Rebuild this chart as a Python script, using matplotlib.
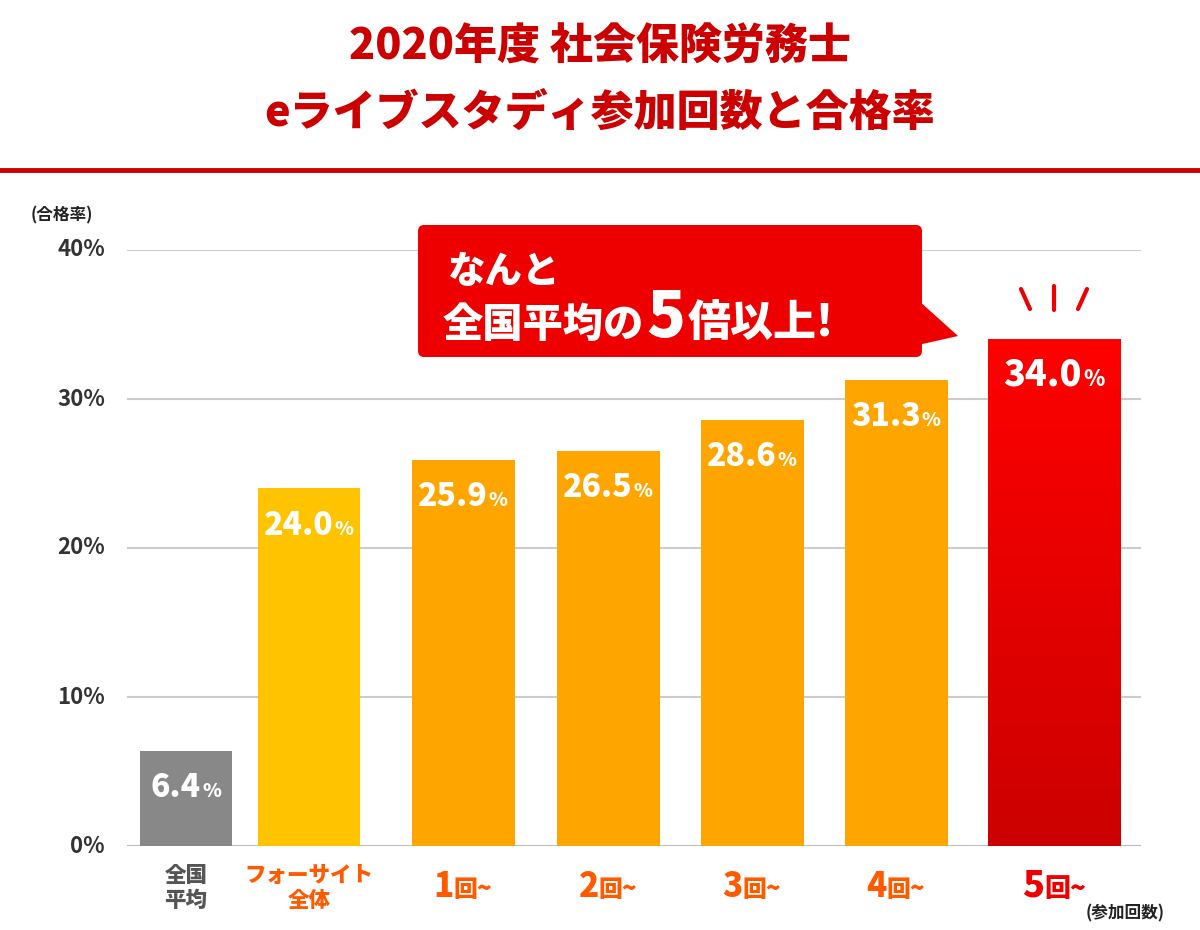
import matplotlib
matplotlib.use("Agg")
import matplotlib.pyplot as plt
import numpy as np
from matplotlib.patches import Polygon, FancyBboxPatch
from matplotlib.colors import LinearSegmentedColormap

plt.rcParams['font.family'] = 'Noto Sans CJK JP'

categories = ["全国\n平均", "フォーサイト\n全体", "1回~", "2回~", "3回~", "4回~", "5回~"]
values = [6.4, 24.0, 25.9, 26.5, 28.6, 31.3, 34.0]
yticks = [0, 10, 20, 30, 40]
ytick_labels = ["0%", "10%", "20%", "30%", "40%"]

centers = [186, 309, 463, 608, 752, 896, 1054]
widths = [92, 102, 103, 103, 103, 103, 133]
bar_colors = ["#888888", "#FFC300", "#FFA500", "#FFA500", "#FFA500", "#FFA500", None]
cat_colors = ["#555555", "#FF5A00", "#FF5A00", "#FF5A00", "#FF5A00", "#FF5A00", "#EE0000"]

fig = plt.figure(figsize=(12, 9.3), dpi=100)
ax = fig.add_axes([0, 84/930, 1, 596/930])
ax.axis('off')
ax.set_xlim(0, 1200)
ax.set_ylim(0, 40)
renderer = fig.canvas.get_renderer()

def chain(x, y, parts, color, center=True, zorder=5):
    inv = ax.transData.inverted()
    ts, ws = [], []
    for s, fs, g in parts:
        t = ax.text(0, y, s, ha='left', va='baseline', fontsize=fs, color=color, fontweight='heavy', zorder=zorder, clip_on=False)
        b = t.get_window_extent(renderer)
        ws.append((inv.transform((b.width, 0)) - inv.transform((0, 0)))[0] + g)
        ts.append(t)
    x0 = x - sum(ws)/2 if center else x
    for t, w in zip(ts, ws):
        t.set_x(x0); x0 += w

for t, lab in zip(yticks, ytick_labels):
    ax.plot([128, 1140], [t, t], color="#cccccc" if t else "#bbbbbb", lw=1.5, zorder=0)
    ax.text(105, t, lab, ha='right', va='center', fontsize=16, color="#333333", fontweight='bold')

cm = LinearSegmentedColormap.from_list("r", ["#CC0000", "#FF0000"])
for i, (c, w, v, col) in enumerate(zip(centers, widths, values, bar_colors)):
    if col:
        ax.bar(c, v, width=w, color=col, zorder=2)
    else:
        grad = np.linspace(0, 1, 256).reshape(-1, 1)
        ax.imshow(grad, cmap=cm, extent=[c - w/2, c + w/2, 0, v], origin='lower', aspect='auto', zorder=2)
    fs = 23 if i < 6 else 26
    chain(c, v - 3.1, [(f"{v:.1f}", fs, 1), ("%", fs*0.6, 0)], 'white', zorder=3)

ax.set_xlim(0, 1200)
ax.set_ylim(0, 40)

for c, lab, col in zip(centers, categories, cat_colors):
    if "回" in lab:
        fs = 26 if lab.startswith("5") else 24
        chain(c, -3.4, [(lab[0], fs, 0), (lab[1:], fs*0.72, 0)], col)
    else:
        ax.text(c, -2.8, lab, ha='center', va='center', fontsize=15.5, color=col, fontweight='heavy', linespacing=1.1, clip_on=False)

ax.text(1125, -4.5, "(参加回数)", ha='center', va='center', fontsize=12, color="#222222", fontweight='bold', clip_on=False)
ax.text(62, 42.3, "(合格率)", ha='center', va='center', fontsize=12, color="#222222", fontweight='bold', clip_on=False)

f = lambda py: (846 - py) / 596 * 40
box = FancyBboxPatch((418, f(357)), 504, f(225) - f(357), boxstyle="round,pad=0,rounding_size=6",
                     fc="#EE0000", ec="none", zorder=4, clip_on=False, mutation_aspect=0.07)
ax.add_patch(box)
ax.add_patch(Polygon([(918, f(300)), (958, f(336)), (918, f(345))], closed=True, fc="#EE0000", ec="none", zorder=4, clip_on=False))
ax.text(447, f(283), "なんと", ha='left', va='baseline', fontsize=27, color='white', fontweight='heavy', zorder=5)
chain(443, f(337), [("全国平均の", 29, 2), ("5", 46, 2), ("倍以上!", 31, 0)], 'white', center=False)

for x0, y0, x1, y1 in [(1021, 289, 1030, 309), (1054, 286, 1054, 310), (1087, 289, 1078, 309)]:
    ax.plot([x0, x1], [f(y0), f(y1)], color="#EE0000", lw=3, solid_capstyle='round', clip_on=False)

fig.text(0.5, 1 - 47/930, "2020年度 社会保険労務士", ha='center', va='center', fontsize=31, color="#CC0000", fontweight='heavy')
fig.text(0.5, 1 - 113/930, "eライブスタディ参加回数と合格率", ha='center', va='center', fontsize=31, color="#CC0000", fontweight='heavy')
fig.add_artist(plt.Line2D([0, 1], [1 - 170/930, 1 - 170/930], color="#CC0000", lw=3.5))

fig.savefig("out.png", dpi=100, facecolor='white')
